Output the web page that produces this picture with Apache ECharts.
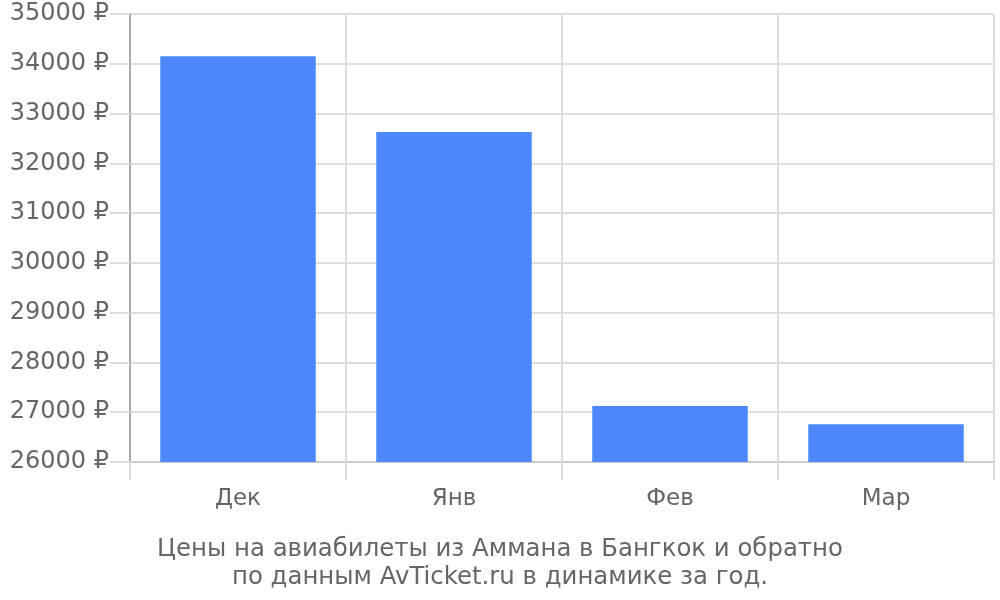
<!DOCTYPE html>
<html><head><meta charset="utf-8">
<script src="https://cdn.jsdelivr.net/npm/echarts@6/dist/echarts.min.js"></script>
<style>html,body{margin:0;padding:0;background:#fff}#c{width:1000px;height:600px}</style>
</head><body><div id="c"></div>
<script>
const categories = ['Дек', 'Янв', 'Фев', 'Мар'];
const prices = [34150, 32630, 27125, 26760];
const yTicks = {min: 26000, max: 35000, step: 1000};
const titleLines = ['Цены на авиабилеты из Аммана в Бангкок и обратно', 'по данным AvTicket.ru в динамике за год.'];

const chart = echarts.init(document.getElementById('c'));
chart.setOption({
  animation: false,
  textStyle: {fontFamily: 'DejaVu Sans'},
  title: {
    text: titleLines.join('\n'),
    left: 'center', top: 531,
    textStyle: {fontSize: 24.4, fontWeight: 'normal', color: '#666', lineHeight: 28, fontFamily: 'DejaVu Sans'}
  },
  grid: {left: 130, right: 6, top: 14, bottom: 138},
  xAxis: {
    type: 'category', data: categories,
    axisLine: {lineStyle: {color: '#ccc', width: 2}},
    axisTick: {show: true, length: 18, lineStyle: {color: '#ddd', width: 2}},
    splitLine: {show: true, lineStyle: {color: '#ddd', width: 2}},
    axisLabel: {fontSize: 23, color: '#666', margin: 26, fontFamily: 'DejaVu Sans'}
  },
  yAxis: {
    type: 'value', min: yTicks.min, max: yTicks.max, interval: yTicks.step,
    axisLine: {show: true, lineStyle: {color: '#aaa', width: 2}},
    axisTick: {show: true, length: 20, lineStyle: {color: '#ddd', width: 2}},
    splitLine: {lineStyle: {color: '#ddd', width: 2}},
    axisLabel: {fontSize: 24, color: '#666', margin: 21, formatter: v => v + ' ₽', fontFamily: 'DejaVu Sans'}
  },
  series: [{
    type: 'bar', data: prices, barCategoryGap: '28%',
    itemStyle: {color: '#4d88fa'}
  }]
});
</script></body></html>
